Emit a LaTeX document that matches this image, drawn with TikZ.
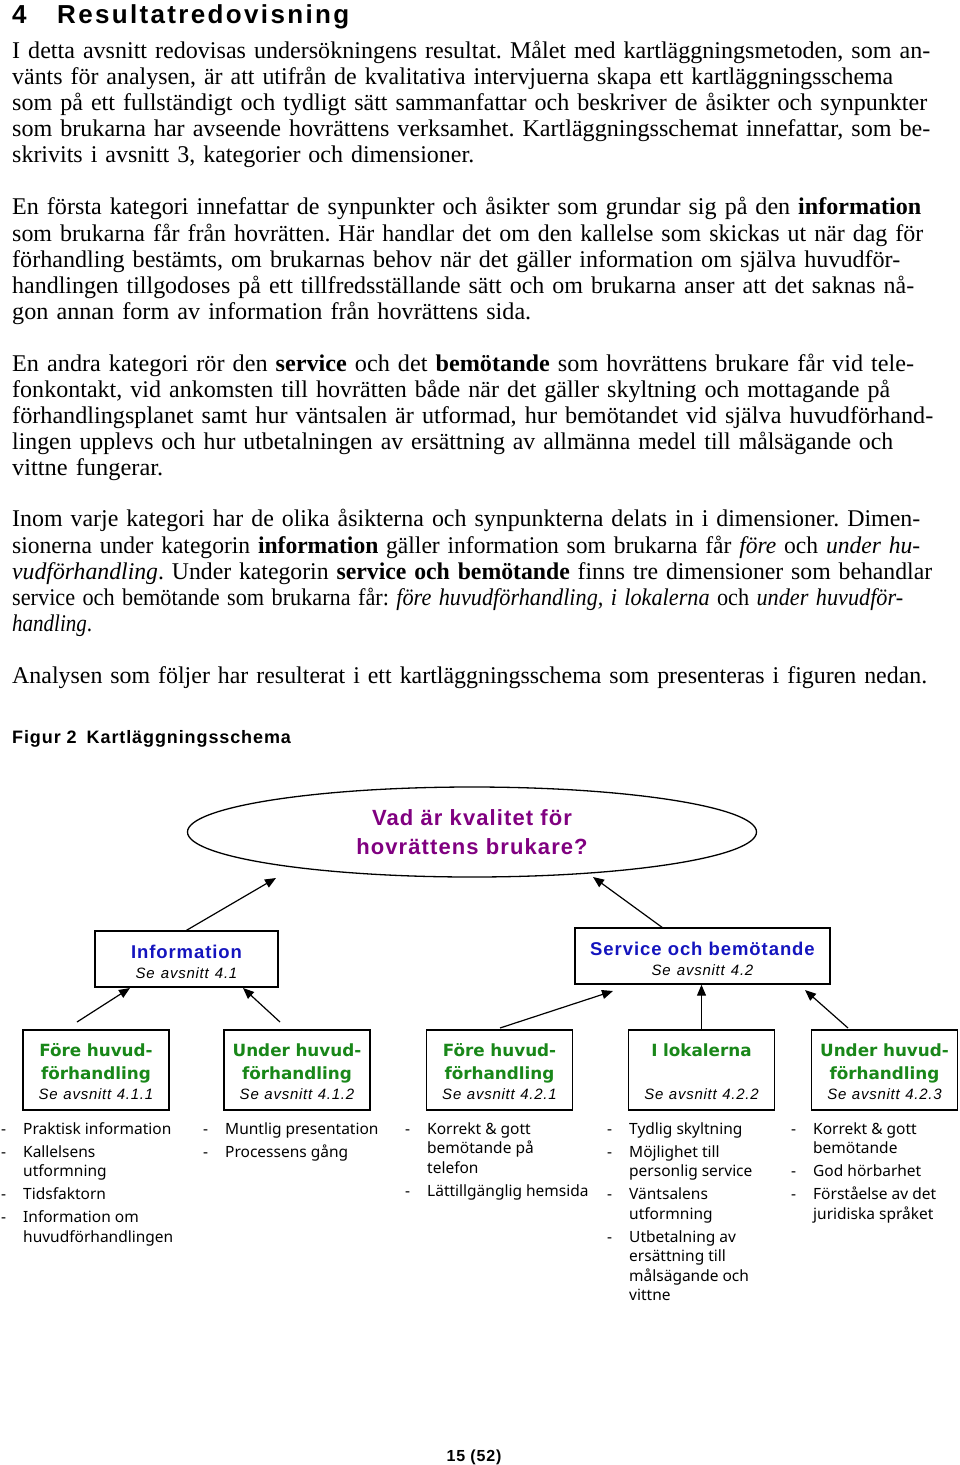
\documentclass[tikz,border=0pt]{standalone}
\usepackage{fontspec}
\setmainfont{Liberation Serif}
\newfontfamily\arial[LetterSpace=5]{Liberation Sans}
\newfontfamily\headfont[LetterSpace=9]{Liberation Sans}
\newfontfamily\tahoma{Noto Sans}
\newfontfamily\tahomab{DejaVu Sans}
\usetikzlibrary{shapes.geometric,arrows.meta}

\definecolor{qpurple}{RGB}{128,0,128}
\definecolor{catblue}{RGB}{20,20,190}
\definecolor{dimgreen}{RGB}{25,135,25}

\newcommand{\seesec}[1]{{\arial\mdseries\itshape\color{black}\fontsize{15}{19.5}\selectfont Se avsnitt #1}}
\newcommand{\tline}[2]{\resizebox{#1pt}{\height}{\strut #2}}
\newcommand{\toprow}[2]{\rule{0pt}{#1pt}#2}
\newcommand{\parafont}{\fontsize{24}{26.125}\selectfont\frenchspacing\lineskiplimit=-4pt\relax}

\tikzset{
  para/.style={anchor=north west, inner sep=0pt, text width=945pt, align=left,
    font=\parafont},
  question/.style={ellipse, draw, line width=1.3pt, minimum width=569pt,
    minimum height=90pt, inner sep=0pt, align=center, text=qpurple,
    font=\fontsize{22}{29}\selectfont\arial\bfseries},
  catbox/.style={draw, line width=1.4pt, minimum height=56pt, inner sep=0pt,
    align=center, font=\fontsize{18.5}{19.5}\selectfont\arial},
  dimbox/.style={draw, line width=1.4pt, text width=146pt, minimum height=80pt,
    inner sep=0pt, align=center, text=dimgreen,
    font=\fontsize{16.8}{23}\selectfont\tahomab\bfseries},
  dimlist/.style={anchor=north west, inner sep=0pt,
    font=\fontsize{15.5}{19.5}\selectfont\tahoma},
  arr/.style={-{Triangle[length=11pt,width=9pt]}, line width=1.2pt},
}

\begin{document}
\begin{tikzpicture}[x=1pt, y=-1pt]
\useasboundingbox (0,0) rectangle (960,1465);

% Section heading
\node[anchor=base west, inner sep=0pt, font=\fontsize{26}{30}\selectfont\headfont\bfseries] (secnum) at (12,23) {4};
\node[anchor=base west, inner sep=0pt, font=\fontsize{26}{30}\selectfont\headfont\bfseries] (sectitle) at (57,23) {Resultatredovisning};

% Body text
\node[para] (p1) at (12,39.7) {\tline{918}{I detta avsnitt redovisas undersökningens resultat. Målet med kartläggningsmetoden, som an-}\\
\tline{881}{vänts för analysen, är att utifrån de kvalitativa intervjuerna skapa ett kartläggningsschema}\\
\tline{915}{som på ett fullständigt och tydligt sätt sammanfattar och beskriver de åsikter och synpunkter}\\
\tline{918}{som brukarna har avseende hovrättens verksamhet. Kartläggningsschemat innefattar, som be-}\\
\tline{462}{skrivits i avsnitt 3, kategorier och dimensioner.}};

\node[para] (p2) at (12,196.5) {\tline{909}{En första kategori innefattar de synpunkter och åsikter som grundar sig på den \textbf{information}}\\
\tline{911}{som brukarna får från hovrätten. Här handlar det om den kallelse som skickas ut när dag för}\\
\tline{888}{förhandling bestämts, om brukarnas behov när det gäller information om själva huvudför-}\\
\tline{902}{handlingen tillgodoses på ett tillfredsställande sätt och om brukarna anser att det saknas nå-}\\
\tline{519}{gon annan form av information från hovrättens sida.}};

\node[para] (p3) at (12,352.7) {\tline{902}{En andra kategori rör den \textbf{service} och det \textbf{bemötande} som hovrättens brukare får vid tele-}\\
\tline{878}{fonkontakt, vid ankomsten till hovrätten både när det gäller skyltning och mottagande på}\\
\tline{921}{förhandlingsplanet samt hur väntsalen är utformad, hur bemötandet vid själva huvudförhand-}\\
\tline{881}{lingen upplevs och hur utbetalningen av ersättning av allmänna medel till målsägande och}\\
\tline{151}{vittne fungerar.}};

\node[para] (p4) at (12,508.5) {\tline{908}{Inom varje kategori har de olika åsikterna och synpunkterna delats in i dimensioner. Dimen-}\\
\tline{908}{sionerna under kategorin \textbf{information} gäller information som brukarna får \textit{före} och \textit{under hu-}}\\
\tline{920}{\textit{vudförhandling}. Under kategorin \textbf{service och bemötande} finns tre dimensioner som behandlar}\\
\tline{891}{service och bemötande som brukarna får: \textit{före huvudförhandling, i lokalerna} och \textit{under huvudför-}}\\
\tline{80}{\textit{handling}.}};

\node[para] (p5) at (12,665.2) {\tline{915}{Analysen som följer har resulterat i ett kartläggningsschema som presenteras i figuren nedan.}};

% Figure caption
\node[anchor=base west, inner sep=0pt, font=\fontsize{18}{22}\selectfont\arial\bfseries] (figcap) at (12,743) {Figur 2\hspace{10pt}Kartläggningsschema};

% Question
\node[question] (q) at (472,832) {Vad är kvalitet för\\hovrättens brukare?};

% Categories
\node[catbox, text width=183pt] (info) at (186.5,959) {\toprow{19.2}{\color{catblue}\bfseries Information}\\\seesec{4.1}};
\node[catbox, text width=255pt] (serv) at (702.5,956) {\toprow{19.2}{\color{catblue}\bfseries Service och bemötande}\\\seesec{4.2}};

% Dimensions
\node[dimbox] (fA) at (96,1070) {\toprow{16.8}{Före huvud-}\\förhandling\\[-3pt]\seesec{4.1.1}};
\node[dimbox] (fB) at (297,1070) {\toprow{16.8}{Under huvud-}\\förhandling\\[-3pt]\seesec{4.1.2}};
\node[dimbox] (fC) at (499.5,1070) {\toprow{16.8}{Före huvud-}\\förhandling\\[-3pt]\seesec{4.2.1}};
\node[dimbox] (fD) at (701.5,1070) {\toprow{16.8}{I lokalerna}\\\mbox{}\\[-3pt]\seesec{4.2.2}};
\node[dimbox] (fE) at (884.5,1070) {\toprow{16.8}{Under huvud-}\\förhandling\\[-3pt]\seesec{4.2.3}};

% Arrow ends
\coordinate (qL) at (276,878);
\coordinate (qR) at (593,877);
\coordinate (sT) at (663,928);
\coordinate (aT) at (77,1022);
\coordinate (aH) at (130,988);
\coordinate (bT) at (280,1022);
\coordinate (bH) at (243,988);
\coordinate (cT) at (500,1028);
\coordinate (cH) at (613,991);
\coordinate (eT) at (848,1028);
\coordinate (eH) at (805,990);

\draw[arr] (info.north) -- (qL);
\draw[arr] (sT) -- (qR);
\draw[arr] (aT) -- (aH);
\draw[arr] (bT) -- (bH);
\draw[arr] (cT) -- (cH);
\draw[arr] (fD.north) -- (fD.north |- serv.south);
\draw[arr] (eT) -- (eH);

% Item lists
\node[dimlist] (lA) at (1,1120.4) {\begin{tabular}{@{}p{22pt}@{}l@{}}
- & Praktisk information\\[3.5pt]
- & Kallelsens\\ & utformning\\[3.5pt]
- & Tidsfaktorn\\[3.5pt]
- & Information om\\ & huvudförhandlingen
\end{tabular}};
\node[dimlist] (lB) at (203,1120.4) {\begin{tabular}{@{}p{22pt}@{}l@{}}
- & Muntlig presentation\\[3.5pt]
- & Processens gång
\end{tabular}};
\node[dimlist] (lC) at (405,1120.4) {\begin{tabular}{@{}p{22pt}@{}l@{}}
- & Korrekt \& gott\\ & bemötande på\\ & telefon\\[3.5pt]
- & Lättillgänglig hemsida
\end{tabular}};
\node[dimlist] (lD) at (607,1120.4) {\begin{tabular}{@{}p{22pt}@{}l@{}}
- & Tydlig skyltning\\[3.5pt]
- & Möjlighet till\\ & personlig service\\[3.5pt]
- & Väntsalens\\ & utformning\\[3.5pt]
- & Utbetalning av\\ & ersättning till\\ & målsägande och\\ & vittne
\end{tabular}};
\node[dimlist] (lE) at (791,1120.4) {\begin{tabular}{@{}p{22pt}@{}l@{}}
- & Korrekt \& gott\\ & bemötande\\[3.5pt]
- & God hörbarhet\\[3.5pt]
- & Förståelse av det\\ & juridiska språket
\end{tabular}};

% Page number
\node[anchor=base, inner sep=0pt, font=\fontsize{16}{18}\selectfont\arial\bfseries] (pageno) at (474,1461) {15 (52)};
\end{tikzpicture}
\end{document}
